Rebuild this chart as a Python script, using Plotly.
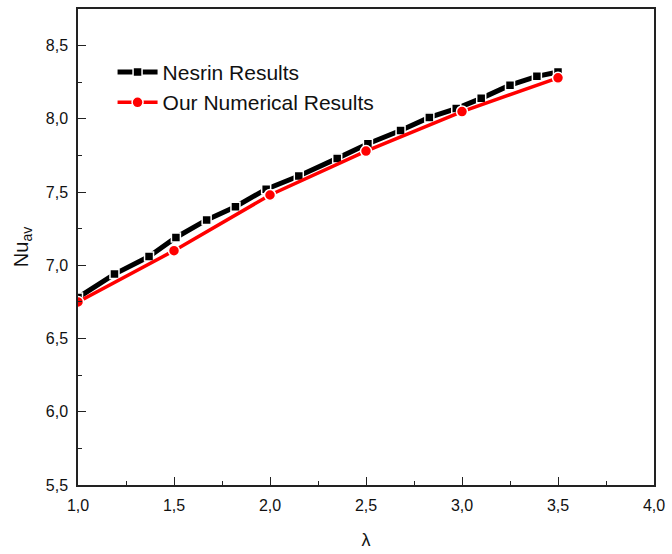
import plotly.graph_objects as go

# Nesrin results (black squares)
nesrin_x = [1.0, 1.19, 1.37, 1.51, 1.67, 1.82, 1.98, 2.15, 2.35, 2.51, 2.68, 2.83, 2.97, 3.10, 3.25, 3.39, 3.50]
nesrin_y = [6.78, 6.94, 7.06, 7.19, 7.31, 7.40, 7.52, 7.61, 7.73, 7.83, 7.92, 8.01, 8.07, 8.14, 8.23, 8.29, 8.32]

# Our numerical results (red circles)
ours_x = [1.0, 1.5, 2.0, 2.5, 3.0, 3.5]
ours_y = [6.75, 7.10, 7.48, 7.78, 8.05, 8.28]

x_ticks = [1.0, 1.5, 2.0, 2.5, 3.0, 3.5, 4.0]
y_ticks = [5.5, 6.0, 6.5, 7.0, 7.5, 8.0, 8.5]

font_family = "Arial, Liberation Sans, sans-serif"

fig = go.Figure()
fig.add_trace(go.Scatter(
    x=nesrin_x, y=nesrin_y, mode="lines+markers", name="Nesrin Results",
    line=dict(color="black", width=5),
    marker=dict(symbol="square", size=9, color="black", line=dict(color="white", width=1.5)),
))
fig.add_trace(go.Scatter(
    x=ours_x, y=ours_y, mode="lines+markers", name="Our Numerical Results",
    line=dict(color="#ff0000", width=3.5),
    marker=dict(symbol="circle", size=11, color="#ff0000", line=dict(color="white", width=1.5)),
))

axis_common = dict(
    showline=True, linecolor="#222", linewidth=1.5, mirror=True,
    ticks="inside", ticklen=8, tickwidth=1.3, tickcolor="#222",
    showgrid=False, zeroline=False, tickformat=".1f",
    tickfont=dict(family=font_family, size=16, color="#111"),
    ticklabeloverflow="allow",
    minor=dict(ticks="inside", ticklen=4, tickwidth=1.2, tickcolor="#222", dtick=0.25, showgrid=False),
)

fig.update_layout(
    width=672, height=554,
    margin=dict(l=78, r=10, t=7, b=68),
    paper_bgcolor="white", plot_bgcolor="white",
    separators=",.",
    font=dict(family=font_family, color="#111"),
    showlegend=True,
    legend=dict(
        x=0.06, y=0.91, xanchor="left", yanchor="top",
        bgcolor="rgba(0,0,0,0)", borderwidth=0,
        font=dict(family=font_family, size=21, color="#111"),
        tracegroupgap=0, itemwidth=40,
    ),
    xaxis=dict(
        range=[1.0, 4.0], tickvals=x_ticks,
        title=dict(text="λ", font=dict(family=font_family, size=18), standoff=20),
        ticklabelstandoff=5,
        **axis_common,
    ),
    yaxis=dict(
        range=[5.5, 8.75], tickvals=y_ticks,
        title=dict(text="Nu<sub>av</sub>", font=dict(family=font_family, size=20), standoff=12),
        ticklabelstandoff=5,
        **axis_common,
    ),
)

fig.write_html("out.html")
